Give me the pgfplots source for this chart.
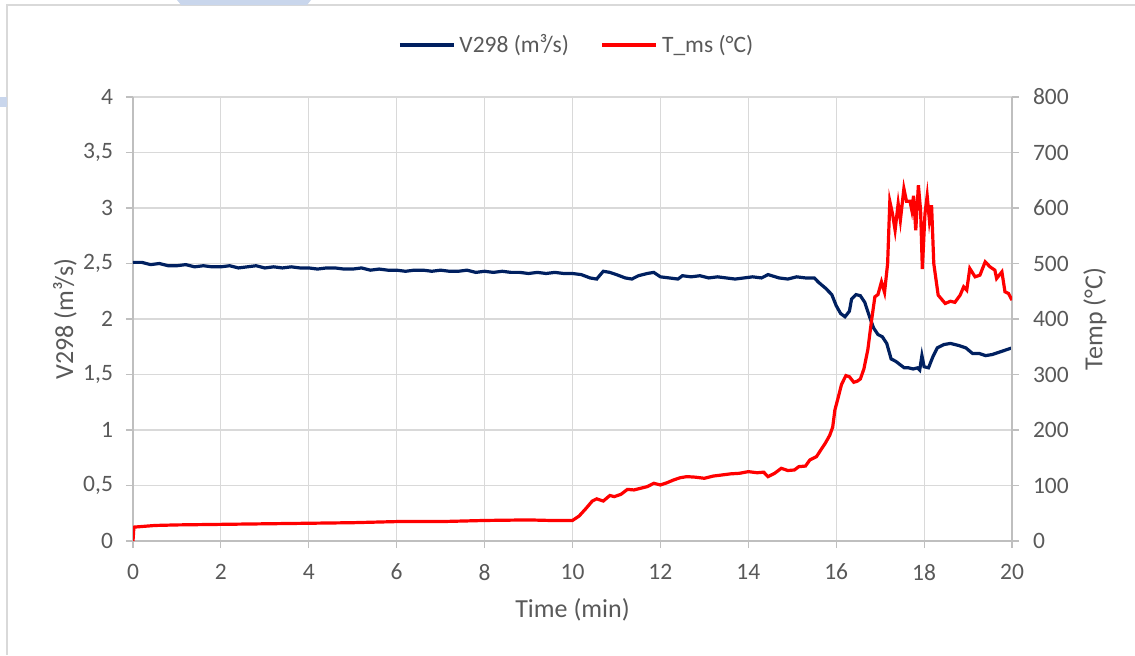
\documentclass[border=0pt]{standalone}
\usepackage{fontspec}
\setmainfont{Carlito}
\usepackage{pgfplots}
\pgfplotsset{compat=1.18}
\definecolor{navyline}{HTML}{002060}
\definecolor{redline}{HTML}{FF0000}
\definecolor{txtgray}{HTML}{595959}
\definecolor{gridgray}{HTML}{D9D9D9}
\definecolor{axgray}{HTML}{BFBFBF}
\definecolor{decoblue}{HTML}{C9D6EC}
\newcommand{\chartfont}{\fontsize{11.75}{14}\selectfont}
\newcommand{\titlefont}{\fontsize{13}{15.6}\selectfont}

\pgfplotsset{
  chartbase/.style={
    at={(0,0)}, anchor=south west,
    scale only axis, width=439.5pt, height=222pt,
    xmin=0, xmax=20,
    axis line style={-, color=axgray, line width=0.6pt},
    tick align=outside, major tick length=3.5pt,
    tick style={color=axgray, line width=0.6pt},
    /pgf/number format/assume math mode=true,
    /pgf/number format/use comma,
    ticklabel style={font=\chartfont, text=txtgray},
  },
}

\begin{document}
\begin{tikzpicture}
\begin{axis}[chartbase,
  ymin=0, ymax=4,
  axis y line*=left, axis x line*=bottom,
  xtick={0,2,...,20}, ytick={0,0.5,...,4},
  xticklabel style={yshift=-4.5pt},
  yticklabel style={xshift=-3pt},
  grid=major, grid style={color=gridgray, line width=0.6pt},
  xlabel={Time (min)},
  every axis x label/.style={at={(axis description cs:0.5,-0.155)}, anchor=center, font=\titlefont, text=txtgray},
  ylabel={V298 (m³/s)},
  every axis y label/.style={at={(axis description cs:-0.0774,0.5)}, rotate=90, anchor=center, font=\titlefont, text=txtgray},
]
\addplot[navyline, line width=1.6pt] coordinates {
(0.0,2.51) (0.2,2.51) (0.4,2.49) (0.6,2.50) (0.8,2.48) (1.0,2.48) (1.2,2.49) (1.4,2.47)
(1.6,2.48) (1.8,2.47) (2.0,2.47) (2.2,2.48) (2.4,2.46) (2.6,2.47) (2.8,2.48) (3.0,2.46)
(3.2,2.47) (3.4,2.46) (3.6,2.47) (3.8,2.46) (4.0,2.46) (4.2,2.45) (4.4,2.46) (4.6,2.46)
(4.8,2.45) (5.0,2.45) (5.2,2.46) (5.4,2.44) (5.6,2.45) (5.8,2.44) (6.0,2.44) (6.2,2.43)
(6.4,2.44) (6.6,2.44) (6.8,2.43) (7.0,2.44) (7.2,2.43) (7.4,2.43) (7.6,2.44) (7.8,2.42)
(8.0,2.43) (8.2,2.42) (8.4,2.43) (8.6,2.42) (8.8,2.42) (9.0,2.41) (9.2,2.42) (9.4,2.41)
(9.6,2.42) (9.8,2.41) (10.0,2.41) (10.2,2.40) (10.4,2.37) (10.55,2.36) (10.7,2.43)
(10.85,2.42) (11.0,2.40) (11.2,2.37) (11.35,2.36) (11.5,2.39) (11.7,2.41) (11.85,2.42)
(12.0,2.38) (12.2,2.37) (12.4,2.36) (12.5,2.39) (12.7,2.38) (12.9,2.39) (13.1,2.37)
(13.3,2.38) (13.5,2.37) (13.7,2.36) (13.9,2.37) (14.1,2.38) (14.3,2.37) (14.45,2.40)
(14.7,2.37) (14.9,2.36) (15.1,2.38) (15.3,2.37) (15.5,2.37) (15.6,2.33) (15.75,2.28)
(15.9,2.22) (16.0,2.12) (16.1,2.05) (16.2,2.02) (16.3,2.07) (16.35,2.18) (16.45,2.22)
(16.55,2.21) (16.65,2.15) (16.75,2.03) (16.85,1.92) (16.95,1.86) (17.05,1.84) (17.15,1.78)
(17.25,1.64) (17.35,1.62) (17.45,1.59) (17.55,1.56) (17.65,1.56) (17.75,1.55) (17.85,1.56)
(17.9,1.54) (17.95,1.67) (18.0,1.57) (18.1,1.56) (18.2,1.66) (18.3,1.74) (18.45,1.77)
(18.6,1.78) (18.8,1.76) (18.95,1.74) (19.1,1.69) (19.25,1.69) (19.4,1.67) (19.55,1.68)
(19.7,1.70) (19.85,1.72) (20.0,1.74)
};
\end{axis}
\begin{axis}[chartbase,
  ymin=0, ymax=800,
  axis y line*=right, axis x line=none,
  ytick={0,100,...,800},
  yticklabel style={xshift=3.5pt},
  ylabel={Temp (°C)},
  every axis y label/.style={at={(axis description cs:1.0944,0.5)}, rotate=90, anchor=center, font=\titlefont, text=txtgray},
  legend style={at={(0.506,1.117)}, anchor=center, draw=none, fill=none,
    legend columns=-1, font=\chartfont, text=txtgray,
    /tikz/every even column/.append style={column sep=14pt},
    legend cell align=left, inner sep=0pt},
  legend image code/.code={\draw[#1] (0pt,0pt) -- (27pt,0pt);},
]
\addlegendimage{navyline, line width=1.6pt}
\addlegendentry{V298 (m³/s)}
\addplot[redline, line width=1.6pt] coordinates {
(0.0,0) (0.02,25) (0.5,28) (1.0,29) (2.0,30) (3.0,31) (4.0,32) (5.0,33) (6.0,35) (7.0,35)
(8.0,37) (9.0,38) (9.5,37) (10.0,37) (10.15,45) (10.3,58) (10.45,72) (10.55,76) (10.7,72)
(10.85,82) (10.95,80) (11.1,84) (11.25,93) (11.4,92) (11.55,95) (11.7,98) (11.85,104)
(12.0,101) (12.15,105) (12.3,110) (12.45,114) (12.6,116) (12.8,115) (13.0,113) (13.2,117)
(13.4,119) (13.6,121) (13.8,122) (14.0,125) (14.2,123) (14.35,124) (14.45,116) (14.6,122)
(14.75,131) (14.9,127) (15.05,128) (15.15,134) (15.3,135) (15.4,146) (15.55,152) (15.65,164)
(15.75,176) (15.85,190) (15.92,205) (15.97,236) (16.05,260) (16.12,282) (16.22,298)
(16.3,296) (16.4,286) (16.48,288) (16.55,292) (16.63,310) (16.72,345) (16.8,395)
(16.88,440) (16.95,444) (17.03,467) (17.1,448) (17.17,500) (17.22,612) (17.28,590)
(17.34,560) (17.41,608) (17.46,578) (17.54,635) (17.6,612) (17.68,612) (17.72,596)
(17.76,622) (17.81,560) (17.87,641) (17.92,596) (17.96,490) (18.02,590) (18.07,622)
(18.12,578) (18.17,605) (18.22,500) (18.32,443) (18.48,428) (18.6,432) (18.7,430)
(18.82,443) (18.9,458) (18.97,452) (19.04,491) (19.16,476) (19.27,479) (19.39,503)
(19.5,494) (19.61,488) (19.65,473) (19.77,485) (19.84,449) (19.92,446) (20.0,434)
};
\addlegendentry{T\_ms (°C)}
\end{axis}
% page frame and background marks of the source image
\pgfresetboundingbox
\useasboundingbox (-66.5pt,-57pt) rectangle (501pt,270.5pt);
\draw[gridgray, line width=0.8pt] (-63pt,-57pt) -- (-63pt,268pt) -- (501pt,268pt);
\fill[decoblue] (22pt,270.5pt) -- (89pt,270.5pt) -- (87pt,268pt) -- (24pt,268pt) -- cycle;
\fill[decoblue] (-66.5pt,222pt) rectangle (-63pt,217pt);
\end{tikzpicture}
\end{document}
